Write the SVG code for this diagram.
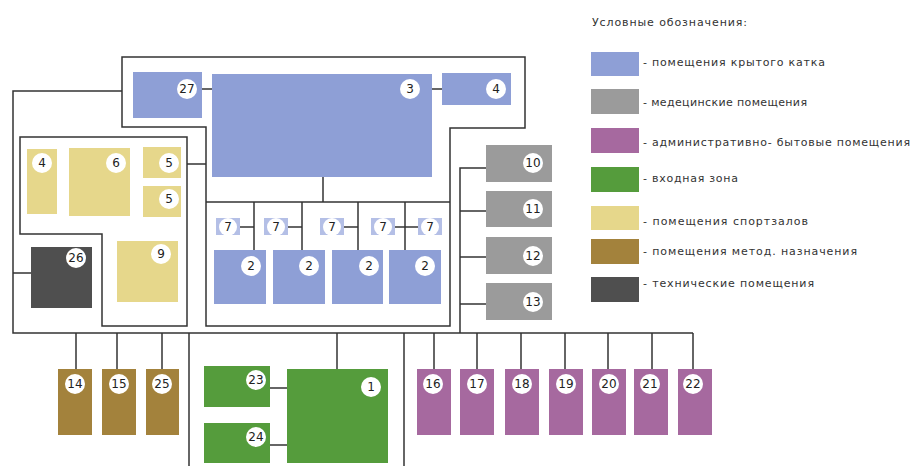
<svg xmlns="http://www.w3.org/2000/svg" width="915" height="468" viewBox="0 0 915 468">
<style>
.b{fill:#8e9fd6}.g{fill:#9b9b9b}.p{fill:#a6699f}.gr{fill:#559c3c}.y{fill:#e6d78b}.br{fill:#a3823c}.d{fill:#4f4f4f}.ic{fill:#b4bfe6}
.ln{fill:none;stroke:#333;stroke-width:1.5}
.c{fill:#fff}
.t{font-family:"DejaVu Sans","Liberation Sans",sans-serif;font-size:12px;fill:#222;text-anchor:middle;dominant-baseline:central}
.lg{font-family:"DejaVu Sans","Liberation Sans",sans-serif;font-size:11px;fill:#333;dominant-baseline:central}
</style>
<rect width="915" height="468" fill="#fff"/>
<g id="connectors">
<polygon class="ln" points="122,127 122,57 525,57 525,128 450,128 450,326 206,326 206,127"/>
<polyline class="ln" points="122,91 13,91 13,333 693,333"/>
<polygon class="ln" points="20,137 187,137 187,326 102,326 102,234 20,234"/>
<line class="ln" x1="206" y1="202" x2="450" y2="202"/>
<line class="ln" x1="202" y1="89" x2="212" y2="89"/>
<line class="ln" x1="432" y1="89" x2="442" y2="89"/>
<line class="ln" x1="323" y1="177" x2="323" y2="202"/>
<line class="ln" x1="187" y1="164" x2="206" y2="164"/>
<line class="ln" x1="13" y1="273" x2="31" y2="273"/>
<line class="ln" x1="254" y1="202" x2="254" y2="250"/>
<line class="ln" x1="302" y1="202" x2="302" y2="250"/>
<line class="ln" x1="358" y1="202" x2="358" y2="250"/>
<line class="ln" x1="405" y1="202" x2="405" y2="250"/>
<line class="ln" x1="240" y1="227" x2="254" y2="227"/>
<line class="ln" x1="288" y1="227" x2="302" y2="227"/>
<line class="ln" x1="344" y1="227" x2="358" y2="227"/>
<line class="ln" x1="395" y1="227" x2="418" y2="227"/>
<polyline class="ln" points="486,168 460,168 460,333"/>
<line class="ln" x1="460" y1="211" x2="486" y2="211"/>
<line class="ln" x1="460" y1="257" x2="486" y2="257"/>
<line class="ln" x1="460" y1="304" x2="486" y2="304"/>
<line class="ln" x1="76" y1="333" x2="76" y2="369"/>
<line class="ln" x1="117" y1="333" x2="117" y2="369"/>
<line class="ln" x1="162" y1="333" x2="162" y2="369"/>
<line class="ln" x1="189" y1="333" x2="189" y2="466"/>
<line class="ln" x1="404" y1="333" x2="404" y2="466"/>
<line class="ln" x1="337" y1="333" x2="337" y2="369"/>
<line class="ln" x1="270" y1="388" x2="287" y2="388"/>
<line class="ln" x1="270" y1="445" x2="287" y2="445"/>
<line class="ln" x1="434" y1="333" x2="434" y2="369"/>
<line class="ln" x1="477" y1="333" x2="477" y2="369"/>
<line class="ln" x1="521" y1="333" x2="521" y2="369"/>
<line class="ln" x1="565" y1="333" x2="565" y2="369"/>
<line class="ln" x1="608" y1="333" x2="608" y2="369"/>
<line class="ln" x1="652" y1="333" x2="652" y2="369"/>
<line class="ln" x1="693" y1="333" x2="693" y2="369"/>
</g>
<g id="n27"><rect class="b" x="133" y="72" width="69" height="46"/><circle class="c" cx="187" cy="89" r="10"/><text class="t" x="187" y="89">27</text></g>
<g id="n3"><rect class="b" x="212" y="74" width="220" height="103"/><circle class="c" cx="410" cy="89" r="10"/><text class="t" x="410" y="89">3</text></g>
<g id="n4b"><rect class="b" x="442" y="73" width="69" height="32"/><circle class="c" cx="496" cy="89" r="10"/><text class="t" x="496" y="89">4</text></g>
<g id="n7a"><rect class="ic" x="216" y="218" width="24" height="17"/><circle class="c" cx="228" cy="227" r="9"/><text class="t" x="228" y="227">7</text></g>
<g id="n7b"><rect class="ic" x="264" y="218" width="24" height="17"/><circle class="c" cx="276" cy="227" r="9"/><text class="t" x="276" y="227">7</text></g>
<g id="n7c"><rect class="ic" x="320" y="218" width="24" height="17"/><circle class="c" cx="332" cy="227" r="9"/><text class="t" x="332" y="227">7</text></g>
<g id="n7d"><rect class="ic" x="371" y="218" width="24" height="17"/><circle class="c" cx="383" cy="227" r="9"/><text class="t" x="383" y="227">7</text></g>
<g id="n7e"><rect class="ic" x="418" y="218" width="24" height="17"/><circle class="c" cx="430" cy="227" r="9"/><text class="t" x="430" y="227">7</text></g>
<g id="n2a"><rect class="b" x="214" y="250" width="52" height="54"/><circle class="c" cx="251" cy="266" r="10"/><text class="t" x="251" y="266">2</text></g>
<g id="n2b"><rect class="b" x="273" y="250" width="52" height="54"/><circle class="c" cx="309" cy="266" r="10"/><text class="t" x="309" y="266">2</text></g>
<g id="n2c"><rect class="b" x="332" y="250" width="51" height="54"/><circle class="c" cx="369" cy="266" r="10"/><text class="t" x="369" y="266">2</text></g>
<g id="n2d"><rect class="b" x="389" y="250" width="52" height="54"/><circle class="c" cx="425" cy="266" r="10"/><text class="t" x="425" y="266">2</text></g>
<g id="n4y"><rect class="y" x="27" y="149" width="30" height="65"/><circle class="c" cx="42" cy="163" r="10"/><text class="t" x="42" y="163">4</text></g>
<g id="n6"><rect class="y" x="69" y="148" width="61" height="68"/><circle class="c" cx="116" cy="163" r="10"/><text class="t" x="116" y="163">6</text></g>
<g id="n5a"><rect class="y" x="143" y="147" width="38" height="31"/><circle class="c" cx="169" cy="163" r="10"/><text class="t" x="169" y="163">5</text></g>
<g id="n5b"><rect class="y" x="143" y="186" width="38" height="31"/><circle class="c" cx="169" cy="199" r="10"/><text class="t" x="169" y="199">5</text></g>
<g id="n9"><rect class="y" x="117" y="241" width="61" height="61"/><circle class="c" cx="161" cy="254" r="10"/><text class="t" x="161" y="254">9</text></g>
<g id="n26"><rect class="d" x="31" y="247" width="61" height="61"/><circle class="c" cx="76" cy="258" r="10"/><text class="t" x="76" y="258">26</text></g>
<g id="n10"><rect class="g" x="486" y="145" width="66" height="37"/><circle class="c" cx="533" cy="163" r="10"/><text class="t" x="533" y="163">10</text></g>
<g id="n11"><rect class="g" x="486" y="191" width="66" height="36"/><circle class="c" cx="533" cy="209" r="10"/><text class="t" x="533" y="209">11</text></g>
<g id="n12"><rect class="g" x="486" y="237" width="66" height="37"/><circle class="c" cx="533" cy="256" r="10"/><text class="t" x="533" y="256">12</text></g>
<g id="n13"><rect class="g" x="486" y="283" width="66" height="37"/><circle class="c" cx="533" cy="302" r="10"/><text class="t" x="533" y="302">13</text></g>
<g id="n14"><rect class="br" x="58" y="369" width="34" height="66"/><circle class="c" cx="75" cy="384" r="10"/><text class="t" x="75" y="384">14</text></g>
<g id="n15"><rect class="br" x="102" y="369" width="34" height="66"/><circle class="c" cx="119" cy="384" r="10"/><text class="t" x="119" y="384">15</text></g>
<g id="n25"><rect class="br" x="146" y="369" width="33" height="66"/><circle class="c" cx="162" cy="384" r="10"/><text class="t" x="162" y="384">25</text></g>
<g id="n23"><rect class="gr" x="204" y="366" width="66" height="41"/><circle class="c" cx="256" cy="380" r="10"/><text class="t" x="256" y="380">23</text></g>
<g id="n24"><rect class="gr" x="204" y="423" width="66" height="40"/><circle class="c" cx="256" cy="437" r="10"/><text class="t" x="256" y="437">24</text></g>
<g id="n1"><rect class="gr" x="287" y="369" width="101" height="94"/><circle class="c" cx="371" cy="387" r="10"/><text class="t" x="371" y="387">1</text></g>
<g id="n16"><rect class="p" x="417" y="369" width="34" height="66"/><circle class="c" cx="433" cy="384" r="10"/><text class="t" x="433" y="384">16</text></g>
<g id="n17"><rect class="p" x="460" y="369" width="34" height="66"/><circle class="c" cx="477" cy="384" r="10"/><text class="t" x="477" y="384">17</text></g>
<g id="n18"><rect class="p" x="505" y="369" width="34" height="66"/><circle class="c" cx="522" cy="384" r="10"/><text class="t" x="522" y="384">18</text></g>
<g id="n19"><rect class="p" x="549" y="369" width="34" height="66"/><circle class="c" cx="566" cy="384" r="10"/><text class="t" x="566" y="384">19</text></g>
<g id="n20"><rect class="p" x="592" y="369" width="34" height="66"/><circle class="c" cx="609" cy="384" r="10"/><text class="t" x="609" y="384">20</text></g>
<g id="n21"><rect class="p" x="634" y="369" width="34" height="66"/><circle class="c" cx="650" cy="384" r="10"/><text class="t" x="650" y="384">21</text></g>
<g id="n22"><rect class="p" x="678" y="369" width="34" height="66"/><circle class="c" cx="693" cy="384" r="10"/><text class="t" x="693" y="384">22</text></g>
<g id="legend">
<text class="lg" x="592" y="22" textLength="155" lengthAdjust="spacing">Условные обозначения:</text>
<rect class="b" x="591" y="52" width="48" height="24"/><text class="lg" x="643" y="62" textLength="182" lengthAdjust="spacing">- помещения крытого катка</text>
<rect class="g" x="591" y="89" width="48" height="25"/><text class="lg" x="643" y="102" textLength="164" lengthAdjust="spacing">- медецинские помещения</text>
<rect class="p" x="591" y="128" width="48" height="25"/><text class="lg" x="643" y="142" textLength="267" lengthAdjust="spacing">- административно- бытовые помещения</text>
<rect class="gr" x="591" y="167" width="48" height="25"/><text class="lg" x="643" y="178" textLength="95" lengthAdjust="spacing">- входная зона</text>
<rect class="y" x="591" y="206" width="48" height="24"/><text class="lg" x="643" y="221" textLength="165" lengthAdjust="spacing">- помещения спортзалов</text>
<rect class="br" x="591" y="239" width="48" height="25"/><text class="lg" x="643" y="251" textLength="214" lengthAdjust="spacing">- помещения метод. назначения</text>
<rect class="d" x="591" y="277" width="48" height="25"/><text class="lg" x="643" y="283" textLength="171" lengthAdjust="spacing">- технические помещения</text>
</g>
</svg>
